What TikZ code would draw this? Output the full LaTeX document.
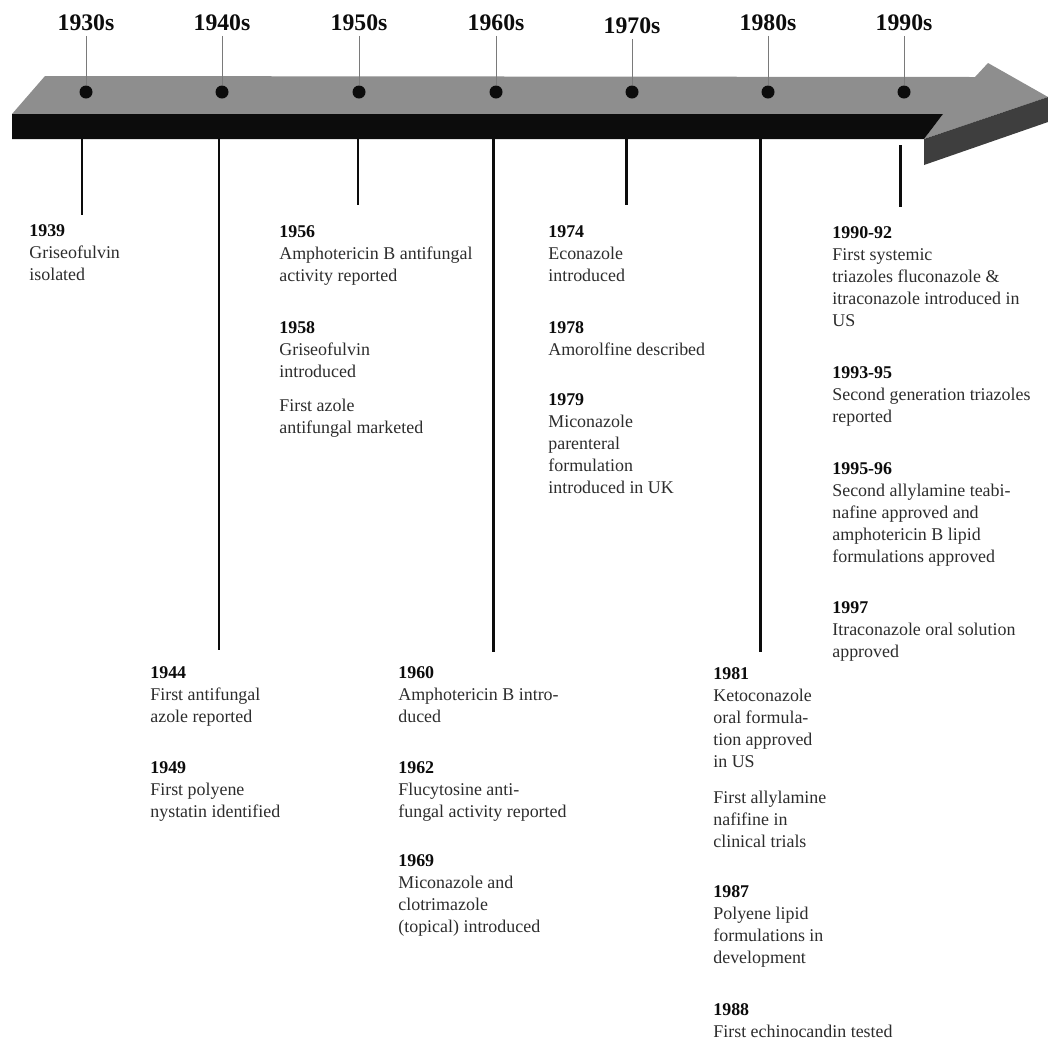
\documentclass[tikz,border=0pt]{standalone}
\usepackage{fontspec}
\setmainfont{Liberation Serif}
\usepackage{xcolor}
\definecolor{tlInk}{HTML}{0C0C0C}
\definecolor{tlGrey}{HTML}{8E8E8E}
\definecolor{tlDark}{HTML}{3E3E3E}
\definecolor{tlText}{HTML}{2C2C2C}
\definecolor{tlRule}{HTML}{7A7A7A}
\newcommand{\yr}[1]{{\bfseries\color{tlInk}#1}}
\tikzset{
  decade/.style={font=\fontsize{13.5}{16}\selectfont\bfseries,text=tlInk,
                 inner sep=1pt,anchor=base},
  dot/.style={circle,fill=tlInk,inner sep=0pt,minimum size=2.6mm},
  tick/.style={draw=tlRule,line width=0.4pt,shorten <=2pt},
  drop/.style={draw=tlInk,line width=1.7pt},
  evt/.style={anchor=north west,inner sep=0pt,align=left,text=tlText,
              font=\fontsize{10.2}{12.5}\selectfont},
}

\begin{document}
\begin{tikzpicture}
    \useasboundingbox (0,0) rectangle (20.96,-20.86);
    % --- the arrow: top face, front face, side of the head
    \fill[tlGrey] (0.90,-1.52) -- (19.50,-1.54) -- (19.76,-1.26) -- (20.96,-1.94)
                  -- (18.48,-2.78) -- (18.86,-2.28) -- (0.24,-2.28) -- cycle;
    \fill[tlInk]  (0.24,-2.28) -- (18.86,-2.28) -- (18.48,-2.78) -- (0.24,-2.78) -- cycle;
    \fill[tlDark] (18.48,-2.78) -- (20.96,-1.94) -- (20.96,-2.44) -- (18.48,-3.30) -- cycle;

    % --- decades
    \node[decade] at (1.72,-0.60)  (d30) {1930s};
    \node[decade] at (4.44,-0.60)  (d40) {1940s};
    \node[decade] at (7.18,-0.60)  (d50) {1950s};
    \node[decade] at (9.92,-0.60)  (d60) {1960s};
    \node[decade] at (12.64,-0.66) (d70) {1970s};
    \node[decade] at (15.36,-0.60) (d80) {1980s};
    \node[decade] at (18.08,-0.60) (d90) {1990s};

    \node[dot] at (1.72,-1.84)  (p30) {};
    \node[dot] at (4.44,-1.84)  (p40) {};
    \node[dot] at (7.18,-1.84)  (p50) {};
    \node[dot] at (9.92,-1.84)  (p60) {};
    \node[dot] at (12.64,-1.84) (p70) {};
    \node[dot] at (15.36,-1.84) (p80) {};
    \node[dot] at (18.08,-1.84) (p90) {};

    \draw[tick] (d30) -- (p30);
    \draw[tick] (d40) -- (p40);
    \draw[tick] (d50) -- (p50);
    \draw[tick] (d60) -- (p60);
    \draw[tick] (d70) -- (p70);
    \draw[tick] (d80) -- (p80);
    \draw[tick] (d90) -- (p90);

    % --- drop lines under the bar
    \coordinate (t30) at (1.64,-2.78);  \coordinate (b30) at (1.64,-4.30);
    \coordinate (t40) at (4.38,-2.78);  \coordinate (b40) at (4.38,-13.00);
    \coordinate (t50) at (7.16,-2.78);  \coordinate (b50) at (7.16,-4.10);
    \coordinate (t60) at (9.86,-2.78);  \coordinate (b60) at (9.86,-13.04);
    \coordinate (t70) at (12.52,-2.78); \coordinate (b70) at (12.52,-4.10);
    \coordinate (t80) at (15.20,-2.78); \coordinate (b80) at (15.20,-13.04);
    \coordinate (t90) at (18.00,-2.90); \coordinate (b90) at (18.00,-4.14);
    \draw[drop] (t30) -- (b30);
    \draw[drop] (t40) -- (b40);
    \draw[drop] (t50) -- (b50);
    \draw[drop] (t60) -- (b60);
    \draw[drop] (t70) -- (b70);
    \draw[drop] (t80) -- (b80);
    \draw[drop] (t90) -- (b90);

    % --- upper events
    \node[evt] at (0.58,-4.48)  (e1939) {\yr{1939}\\Griseofulvin\\isolated};
    \node[evt] at (5.58,-4.50)  (e1956) {\yr{1956}\\Amphotericin B antifungal\\activity reported};
    \node[evt] at (5.58,-6.42)  (e1958) {\yr{1958}\\Griseofulvin\\introduced};
    \node[evt] at (5.58,-7.98)  (eazole) {First azole\\antifungal marketed};
    \node[evt] at (10.96,-4.50) (e1974) {\yr{1974}\\Econazole\\introduced};
    \node[evt] at (10.96,-6.42) (e1978) {\yr{1978}\\Amorolfine described};
    \node[evt] at (10.96,-7.86) (e1979) {\yr{1979}\\Miconazole\\parenteral\\formulation\\introduced in UK};
    \node[evt] at (16.64,-4.52) (e1990) {\yr{1990-92}\\First systemic\\triazoles fluconazole \&\\itraconazole introduced in\\US};
    \node[evt] at (16.64,-7.32) (e1993) {\yr{1993-95}\\Second generation triazoles\\reported};
    \node[evt] at (16.64,-9.24) (e1995) {\yr{1995-96}\\Second allylamine teabi-\\nafine approved and\\amphotericin B lipid\\formulations approved};
    \node[evt] at (16.64,-12.02) (e1997) {\yr{1997}\\Itraconazole oral solution\\approved};

    % --- lower events
    \node[evt] at (3.00,-13.32)  (e1944) {\yr{1944}\\First antifungal\\azole reported};
    \node[evt] at (3.00,-15.22)  (e1949) {\yr{1949}\\First polyene\\nystatin identified};
    \node[evt] at (7.96,-13.32)  (e1960) {\yr{1960}\\Amphotericin B intro-\\duced};
    \node[evt] at (7.96,-15.22)  (e1962) {\yr{1962}\\Flucytosine anti-\\fungal activity reported};
    \node[evt] at (7.96,-17.08)  (e1969) {\yr{1969}\\Miconazole and\\clotrimazole\\(topical) introduced};
    \node[evt] at (14.26,-13.34) (e1981) {\yr{1981}\\Ketoconazole\\oral formula-\\tion approved\\in US};
    \node[evt] at (14.26,-15.82) (eallyl) {First allylamine\\nafifine in\\clinical trials};
    \node[evt] at (14.26,-17.70) (e1987) {\yr{1987}\\Polyene lipid\\formulations in\\development};
    \node[evt] at (14.26,-20.06) (e1988) {\yr{1988}\\First echinocandin tested};
\end{tikzpicture}
\end{document}
